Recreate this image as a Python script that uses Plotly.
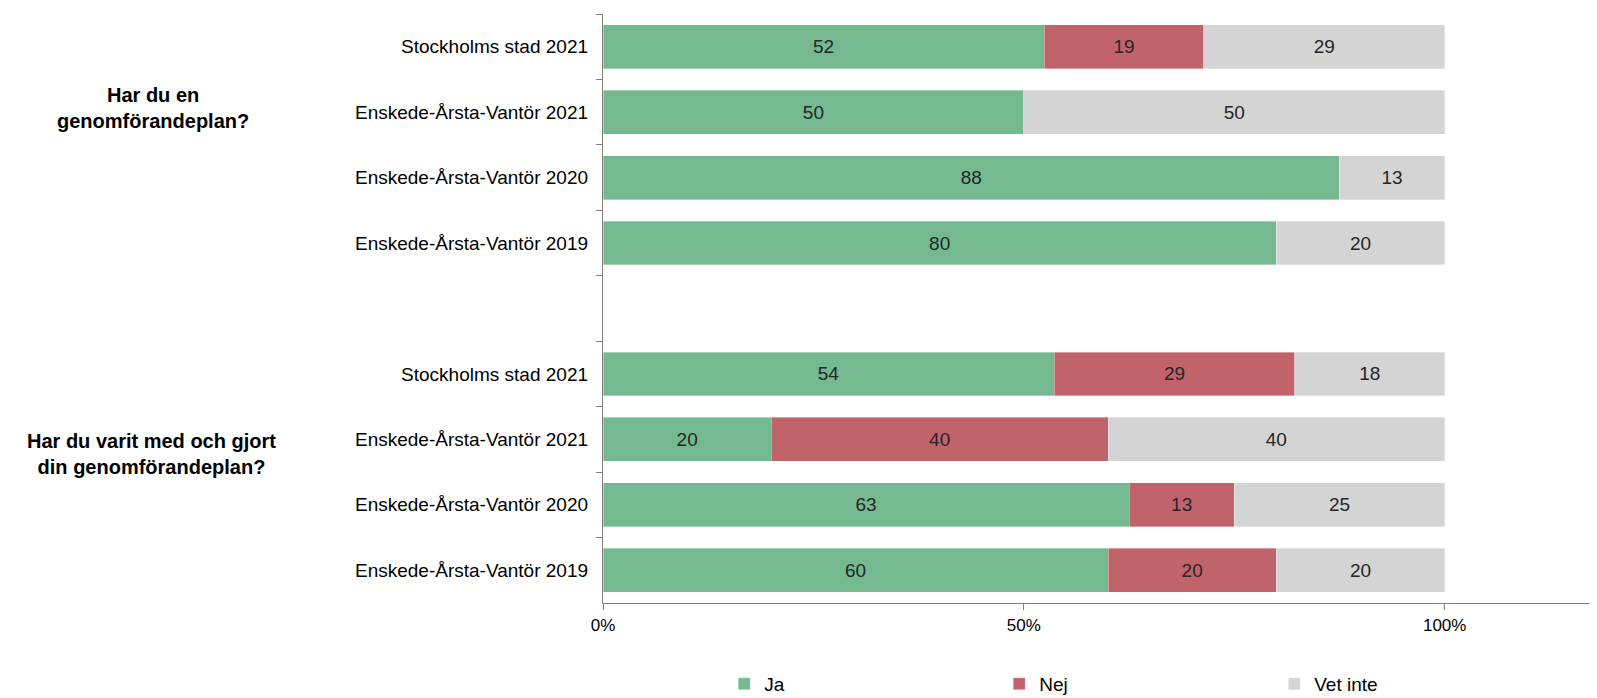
import plotly.graph_objects as go

# ---- data ----
categories = [
    "Stockholms stad 2021",
    "Enskede-Årsta-Vantör 2021",
    "Enskede-Årsta-Vantör 2020",
    "Enskede-Årsta-Vantör 2019",
    " ",
    "Stockholms stad 2021\u200b",
    "Enskede-Årsta-Vantör 2021\u200b",
    "Enskede-Årsta-Vantör 2020\u200b",
    "Enskede-Årsta-Vantör 2019\u200b",
]
ja = [52.4, 50, 87.5, 80, None, 53.6, 20, 62.5, 60]
nej = [19.0, None, None, None, None, 28.6, 40, 12.5, 20]
vet_inte = [28.6, 50, 12.5, 20, None, 17.8, 40, 25, 20]
series_names = ["Ja", "Nej", "Vet inte"]
series_colors = ["#75B990", "#C1636B", "#D4D4D4"]
group_labels = ["Har du en<br>genomförandeplan?",
                "Har du varit med och gjort<br>din genomförandeplan?"]
x_tickvals = [0, 50, 100]
x_ticktext = ["0%", "50%", "100%"]

FONT = "Liberation Sans, Arial, sans-serif"

fig = go.Figure()
for name, vals, col in zip(series_names, [ja, nej, vet_inte], series_colors):
    fig.add_trace(go.Bar(
        y=categories, x=vals, name=name, orientation="h",
        marker=dict(color=col, line=dict(color="rgba(255,255,255,0.6)", width=0.6)),
        texttemplate="%{x:.0f}", textposition="inside",
        insidetextanchor="middle", textangle=0, constraintext="none",
        textfont=dict(family=FONT, size=19, color="#262626"),
        hoverinfo="skip",
    ))

fig.update_layout(
    width=1597, height=698,
    barmode="stack", bargap=0.33,
    plot_bgcolor="white", paper_bgcolor="white",
    margin=dict(l=595, r=0, t=6, b=103),
    font=dict(family=FONT, size=19, color="#000000"),
    showlegend=True,
    legend=dict(orientation="h", x=0.121, y=-0.105, xanchor="left", yanchor="top",
                traceorder="normal",
                entrywidth=230, entrywidthmode="pixels",
                font=dict(family=FONT, size=19, color="#000000"),
                itemwidth=30, tracegroupgap=0),
)
fig.update_xaxes(
    range=[0, 119.05], tickvals=x_tickvals, ticktext=x_ticktext,
    showgrid=False, zeroline=False, showline=True, linecolor="#808080", linewidth=1.3,
    ticks="outside", ticklen=6, tickcolor="#808080",
    tickfont=dict(family=FONT, size=17, color="#000000"),
)
fig.update_yaxes(
    type="category", categoryorder="array", categoryarray=categories,
    autorange="reversed", tickson="boundaries",
    showgrid=False, showline=True, linecolor="#808080", linewidth=1.3,
    ticks="outside", ticklen=6, tickcolor="#808080", ticklabelstandoff=10,
    tickfont=dict(family=FONT, size=19, color="#000000"),
)

for txt, yp, xp in zip(group_labels, [0.840, 0.253], [-0.449, -0.451]):
    fig.add_annotation(text="<b>" + txt + "</b>", xref="paper", yref="paper",
                       x=xp, y=yp, xanchor="center", yanchor="middle",
                       showarrow=False, align="center",
                       font=dict(family=FONT, size=20, color="#000000"))

fig.write_html("out.html")
